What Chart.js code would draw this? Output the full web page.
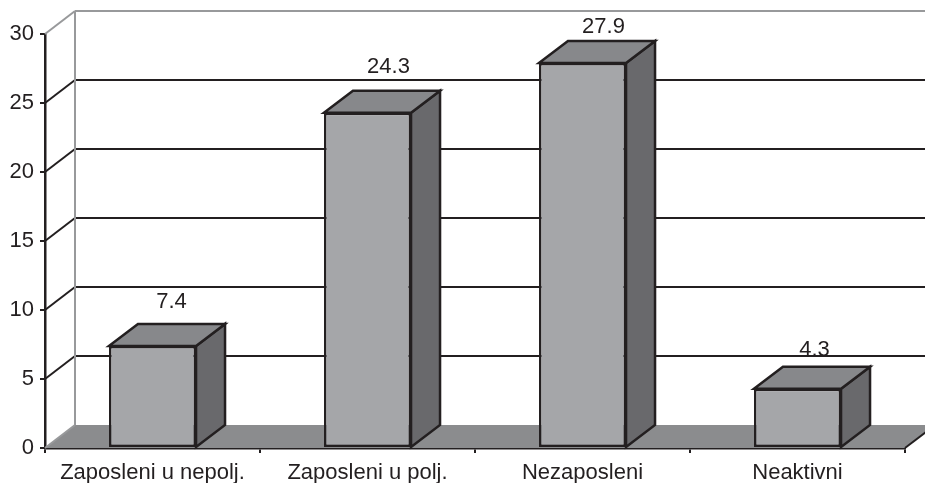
<!DOCTYPE html>
<html><head><meta charset="utf-8">
<style>html,body{margin:0;padding:0;background:#fff}#w{width:925px;height:483px;position:relative}</style>
<script src="https://cdn.jsdelivr.net/npm/chart.js@4"></script>
</head><body><div id="w"><canvas id="c" width="925" height="483"></canvas></div>
<script>
const categories = ["Zaposleni u nepolj.", "Zaposleni u polj.", "Nezaposleni", "Neaktivni"];
const values = [7.4, 24.3, 27.9, 4.3];
const yTicks = [0, 5, 10, 15, 20, 25, 30];
const valueLabels = ["7.4", "24.3", "27.9", "4.3"];

const DARK = "#231f20", WALL = "#98999b", FLOOR = "#8b8c8e";
const FRONT = "#a5a6a9", SIDE = "#69696c", TOP = "#87888b";
const FONT = "'Liberation Sans', Arial, sans-serif";
const WALL_DX = 30, WALL_DY = -23, BAR_DX = 29, BAR_DY = -22;
const LABEL_SHIFT = [[19, 22], [21, 24], [21, 14], [17, 17]];

function poly(ctx, pts, fill, stroke) {
  ctx.beginPath();
  pts.forEach((p, i) => i ? ctx.lineTo(p[0], p[1]) : ctx.moveTo(p[0], p[1]));
  ctx.closePath();
  if (fill) { ctx.fillStyle = fill; ctx.fill(); }
  if (stroke) { ctx.strokeStyle = stroke; ctx.lineWidth = 2.5; ctx.lineJoin = "miter"; ctx.stroke(); }
}
function seg(ctx, x1, y1, x2, y2, color) {
  ctx.beginPath(); ctx.moveTo(x1, y1); ctx.lineTo(x2, y2);
  ctx.strokeStyle = color; ctx.lineWidth = 2; ctx.stroke();
}

const box3d = {
  id: "box3d",
  beforeDatasetsDraw(chart) {
    const { ctx, chartArea: a, scales: { y } } = chart;
    const W = chart.width;
    ctx.save();
    // floor
    poly(ctx, [[a.left, a.bottom], [a.left + WALL_DX, a.bottom + WALL_DY],
               [W + 40, a.bottom + WALL_DY], [a.right + WALL_DX, a.bottom + WALL_DY],
               [a.right, a.bottom]], FLOOR);
    // back grid lines and their slanted side-wall lines
    yTicks.forEach(t => {
      const py = y.getPixelForValue(t);
      if (t === 0) {
        seg(ctx, a.left, py, a.left + WALL_DX, py + WALL_DY, WALL);
        return;
      }
      const c = t === 30 ? WALL : DARK;
      seg(ctx, a.left, py, a.left + WALL_DX, py + WALL_DY, c);
      seg(ctx, a.left + WALL_DX, py + WALL_DY, W, py + WALL_DY, c);
    });
    // back-left corner
    seg(ctx, a.left + WALL_DX, y.getPixelForValue(0) + WALL_DY,
        a.left + WALL_DX, y.getPixelForValue(30) + WALL_DY, WALL);
    // floor front-right slant
    seg(ctx, a.right, a.bottom, a.right + WALL_DX, a.bottom + WALL_DY, DARK);
    // bar sides and tops
    chart.getDatasetMeta(0).data.forEach(b => {
      const l = b.x - b.width / 2, r = b.x + b.width / 2, t = b.y, bt = b.base;
      poly(ctx, [[r, t], [r + BAR_DX, t + BAR_DY], [r + BAR_DX, bt + BAR_DY], [r, bt]], SIDE, DARK);
      poly(ctx, [[l, t], [l + BAR_DX, t + BAR_DY], [r + BAR_DX, t + BAR_DY], [r, t]], TOP, DARK);
    });
    ctx.restore();
  },
  afterDatasetsDraw(chart) {
    const { ctx } = chart;
    ctx.save();
    ctx.font = "22px " + FONT;
    ctx.fillStyle = DARK;
    ctx.textAlign = "center";
    ctx.textBaseline = "middle";
    chart.getDatasetMeta(0).data.forEach((b, i) => {
      const s = LABEL_SHIFT[i];
      ctx.fillText(valueLabels[i], b.x + s[0], b.y + BAR_DY - s[1]);
    });
    ctx.restore();
  }
};

new Chart(document.getElementById("c"), {
  type: "bar",
  data: {
    labels: categories,
    datasets: [{
      data: values,
      backgroundColor: FRONT,
      borderColor: DARK,
      borderWidth: 2.5,
      borderSkipped: false,
      barPercentage: 0.405,
      categoryPercentage: 1
    }]
  },
  options: {
    responsive: false,
    animation: false,
    layout: { padding: { top: 34, right: 20, left: 0, bottom: 0 } },
    plugins: { legend: { display: false }, tooltip: { enabled: false } },
    scales: {
      x: {
        afterFit: s => { s.height = 35; },
        grid: { offset: true, drawOnChartArea: false, drawTicks: true, tickLength: 5, color: DARK, lineWidth: 2 },
        border: { color: DARK, width: 2.5 },
        ticks: { color: DARK, font: { family: FONT, size: 22 }, padding: 7, maxRotation: 0, autoSkip: false }
      },
      y: {
        min: 0, max: 30,
        afterFit: s => { s.width = 45; },
        afterBuildTicks: s => { s.ticks = yTicks.map(v => ({ value: v })); },
        grid: { drawOnChartArea: false, drawTicks: true, tickLength: 5, color: DARK, lineWidth: 2 },
        border: { color: DARK, width: 2.5 },
        ticks: { color: DARK, font: { family: FONT, size: 22 }, padding: 6 }
      }
    }
  },
  plugins: [box3d]
});
</script></body></html>
